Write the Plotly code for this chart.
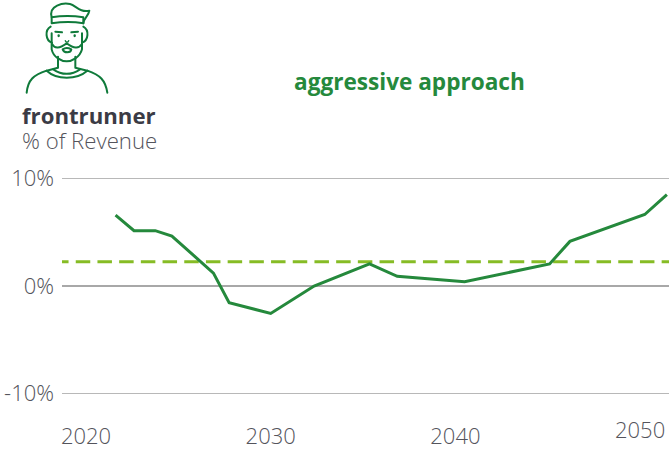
import plotly.graph_objects as go
from urllib.parse import quote

W, H = 670, 452

# Data
years = [2021.6, 2022.6, 2023.75, 2024.65, 2026.9, 2027.75, 2030.0, 2032.35,
         2035.35, 2036.85, 2040.5, 2045.1, 2046.2, 2050.25, 2051.45]
revenue_pct = [6.6, 5.15, 5.15, 4.65, 1.2, -1.55, -2.55, 0.0,
               2.05, 0.9, 0.4, 2.05, 4.15, 6.65, 8.5]
threshold_pct = 2.25
threshold_years = [2018.27, 2052.0]
x_tick_years = [2020, 2030, 2040]
x_tick_labels = ["2020", "2030", "2040"]
last_year_label = 2050
y_tick_values = [-10, 0, 10]
y_tick_labels = ["-10%", "0%", "10%"]

GREEN = "#25893c"
LIME = "#86bc25"
ICON = "#0f7a3a"
GREY_TXT = "#54545c"
DARK = "#3b3b45"
GRID = "#b8b8b8"
FONT = "Open Sans"

icon_svg = f'''<svg xmlns="http://www.w3.org/2000/svg" viewBox="0 0 600 480" width="600" height="480">
<g fill="none" stroke="{ICON}" stroke-width="6" stroke-linecap="round" stroke-linejoin="round">
<path d="M80 278 C84 240 100 225 140 212 L174 203 L174 170"/>
<path d="M322 278 C316 240 300 225 262 212 L226 203 L226 170"/>
<path d="M140 212 C170 240 230 240 262 212"/>
<path d="M160 208 C185 226 215 226 240 208"/>
<path d="M155 70 C195 64 215 64 250 70 L250 52 C215 46 190 46 155 52 Z"/>
<path d="M155 52 C145 15 190 8 210 12 C228 16 238 38 268 32 C266 48 252 52 250 70"/>
<path d="M152 80 C134 90 136 122 156 128 M250 80 C268 90 266 122 246 128"/>
<path d="M155 100 L155 148 C160 172 185 184 200 184 C215 184 240 172 246 148 L246 100"/>
<path d="M156 132 C165 148 178 145 200 130 C222 145 235 148 246 132"/>
<path d="M188 148 C195 143 205 143 214 148 C212 160 192 160 188 148 Z"/>
<path d="M166 95 L186 97 M234 95 L214 97"/>
<path d="M176 106 L176 108 M224 106 L224 108" stroke-width="7"/>
<path d="M196 122 C198 128 204 128 206 122" stroke-width="4"/>
</g></svg>'''

fig = go.Figure()
fig.add_trace(go.Scatter(
    x=threshold_years, y=[threshold_pct] * len(threshold_years), mode="lines",
    line=dict(color=LIME, width=3, dash="14.5px,7.2px"), hoverinfo="skip", showlegend=False))
fig.add_trace(go.Scatter(
    x=years, y=revenue_pct, mode="lines",
    line=dict(color=GREEN, width=3), showlegend=False))

X0, X1 = 62, 669
PX_PER_YEAR = 18.47
PX_PER_PCT = 10.75
Y_ZERO = 286
Y_PAD = 11  # the axis runs a little past +/-10 so the outer grid lines are kept
fig.update_layout(
    width=W, height=H, margin=dict(l=0, r=0, t=0, b=0),
    paper_bgcolor="white", plot_bgcolor="white",
    font=dict(family=FONT, color=GREY_TXT),
    xaxis=dict(
        automargin=False,
        domain=[X0 / W, X1 / W],
        range=[2020 - (86 - X0) / PX_PER_YEAR, 2020 + (X1 - 86) / PX_PER_YEAR],
        tickmode="array", tickvals=x_tick_years, ticktext=x_tick_labels,
        showgrid=False, zeroline=False, showline=False, ticks="",
        ticklabelstandoff=17, tickfont=dict(size=22, color=GREY_TXT, family=FONT, weight=300)),
    yaxis=dict(
        automargin=False,
        domain=[1 - (Y_ZERO + Y_PAD * PX_PER_PCT) / H, 1 - (Y_ZERO - Y_PAD * PX_PER_PCT) / H],
        range=[-Y_PAD, Y_PAD],
        tickmode="array", tickvals=y_tick_values, ticktext=y_tick_labels,
        showgrid=True, gridcolor=GRID, gridwidth=1,
        zeroline=True, zerolinecolor="#a8a8a8", zerolinewidth=2, showline=False,
        ticks="", ticklabelstandoff=7, tickfont=dict(size=22, color=GREY_TXT, family=FONT, weight=300)),
    images=[dict(source="data:image/svg+xml," + quote(icon_svg), xref="paper", yref="paper",
                 x=0, y=1, sizex=200 / W, sizey=160 / H, xanchor="left", yanchor="top",
                 sizing="stretch", layer="above")],
    annotations=[
        dict(text="<b>aggressive approach</b>", xref="paper", yref="paper", x=409 / W, y=1 - 82 / H,
             showarrow=False, xanchor="center", yanchor="middle",
             font=dict(size=22.6, color=GREEN, family=FONT)),
        dict(text="<b>frontrunner</b>", xref="paper", yref="paper", x=22 / W, y=1 - 116 / H,
             showarrow=False, xanchor="left", yanchor="middle", xshift=-2,
             font=dict(size=22.2, color=DARK, family=FONT)),
        dict(text="% of Revenue", xref="paper", yref="paper", x=22 / W, y=1 - 140 / H,
             showarrow=False, xanchor="left", yanchor="middle", xshift=-2,
             font=dict(size=22.2, color=GREY_TXT, family=FONT, weight=300)),
        dict(text=str(last_year_label), xref="x", yref="paper", x=last_year_label, y=1 - 429 / H,
             showarrow=False, xanchor="center", yanchor="middle",
             font=dict(size=22, color=GREY_TXT, family=FONT, weight=300)),
    ],
)

fig.write_html("out.html", config=dict(displayModeBar=False),
               post_script="document.body.style.margin='0';")
